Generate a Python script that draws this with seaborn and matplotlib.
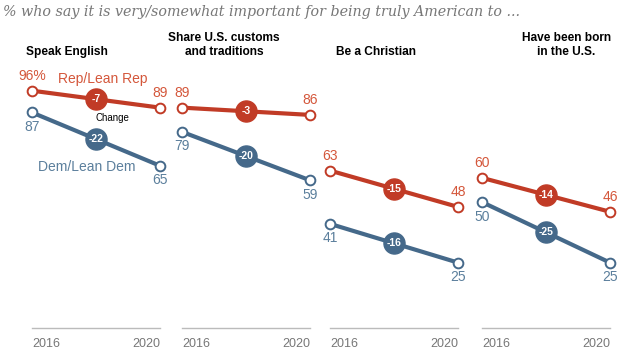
import pandas as pd
import seaborn as sns
import matplotlib.pyplot as plt

# data
panels = ["Speak English", "Share U.S. customs\nand traditions", "Be a Christian", "Have been born\nin the U.S."]
years = [2016, 2020]
rep_2016 = [96, 89, 63, 60]
rep_2020 = [89, 86, 48, 46]
dem_2016 = [87, 79, 41, 50]
dem_2020 = [65, 59, 25, 25]
rep_change = [-7, -3, -15, -14]
dem_change = [-22, -20, -16, -25]

RED = "#C13B26"
RED_TXT = "#D4573B"
BLUE = "#45698A"
BLUE_TXT = "#5B7F9C"

sns.set_theme(style="white")
plt.rcParams["font.family"] = ["Liberation Sans", "DejaVu Sans"]

fig = plt.figure(figsize=(6.4, 3.61), dpi=100)

lefts = [32, 182, 330, 482]
title_pos = [0.27, 0.33, 0.36, 0.66]

for i, left in enumerate(lefts):
    ax = fig.add_axes([left / 640, (361 - 328) / 361, 128 / 640, (328 - 81) / 361])
    df = pd.DataFrame({
        "year": years * 2,
        "value": [rep_2016[i], rep_2020[i], dem_2016[i], dem_2020[i]],
        "party": ["Rep"] * 2 + ["Dem"] * 2,
    })
    for party, col in [("Dem", BLUE), ("Rep", RED)]:
        sns.lineplot(data=df[df.party == party], x="year", y="value", ax=ax,
                     color=col, linewidth=3, marker="o", markersize=7,
                     markerfacecolor="white", markeredgecolor=col,
                     markeredgewidth=1.4, legend=False)
    for ln in ax.lines:
        ln.set_clip_on(False)

    # change circles at midpoints
    for v0, v1, ch, col in [(rep_2016[i], rep_2020[i], rep_change[i], RED),
                            (dem_2016[i], dem_2020[i], dem_change[i], BLUE)]:
        ym = (v0 + v1) / 2
        ax.scatter([2018], [ym], s=230, color=col, zorder=5, clip_on=False)
        ax.text(2018, ym, str(ch), color="white", fontsize=7.5, fontweight="bold",
                ha="center", va="center", zorder=6)

    # value labels
    first = "%" if i == 0 else ""
    ax.annotate(f"{rep_2016[i]}{first}", (2016, rep_2016[i]), xytext=(0, 10.5),
                textcoords="offset points", ha="center", va="center",
                color=RED_TXT, fontsize=10)
    ax.annotate(f"{rep_2020[i]}", (2020, rep_2020[i]), xytext=(0, 10.5),
                textcoords="offset points", ha="center", va="center",
                color=RED_TXT, fontsize=10)
    ax.annotate(f"{dem_2016[i]}", (2016, dem_2016[i]), xytext=(0, -10.5),
                textcoords="offset points", ha="center", va="center",
                color=BLUE_TXT, fontsize=10)
    ax.annotate(f"{dem_2020[i]}", (2020, dem_2020[i]), xytext=(0, -10.5),
                textcoords="offset points", ha="center", va="center",
                color=BLUE_TXT, fontsize=10)

    ax.set_xlim(2016, 2020)
    ax.set_ylim(-2, 100)
    ax.set_yticks([])
    ax.set_xticks(years)
    ax.set_xticklabels(["2016", "2020"], color="#777777", fontsize=9)
    labs = ax.get_xticklabels()
    labs[0].set_ha("left")
    labs[1].set_ha("right")
    ax.tick_params(axis="x", length=0, pad=7)
    ax.set_xlabel("")
    ax.set_ylabel("")
    for s in ["top", "right", "left"]:
        ax.spines[s].set_visible(False)
    ax.spines["bottom"].set_color("#BBBBBB")
    ax.spines["bottom"].set_linewidth(1)
    ax.patch.set_alpha(0)

    ax.text(title_pos[i], 1.093, panels[i],
            transform=ax.transAxes, ha="center", va="bottom",
            fontsize=8.6, fontweight="bold", color="black", linespacing=1.25)

    if i == 0:
        ax.text(2018.2, 100.8, "Rep/Lean Rep", color=RED_TXT, fontsize=10,
                ha="center", va="center")
        ax.text(2018.5, 84.7, "Change", color="black", fontsize=7,
                ha="center", va="center")
        ax.text(2017.7, 64.5, "Dem/Lean Dem", color=BLUE_TXT, fontsize=10,
                ha="center", va="center")

fig.text(3 / 640, 1 - 12 / 361,
         "% who say it is very/somewhat important for being truly American to ...",
         family="DejaVu Serif", style="italic", fontsize=10.3, color="#777777",
         ha="left", va="center")

fig.savefig("out.png", dpi=100)
